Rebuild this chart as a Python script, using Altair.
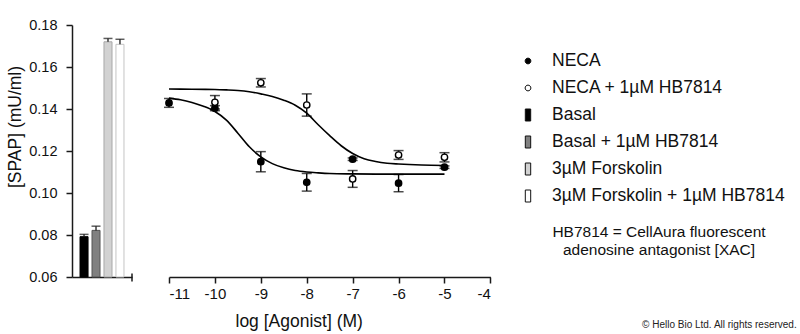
import altair as alt
import pandas as pd

FONT = "Liberation Sans"
INK = "#1a1a1a"

# ---------------- data ----------------
bar_labels = ["Basal", "Basal + 1µM HB7814", "3µM Forskolin", "3µM Forskolin + 1µM HB7814"]
bar_values = [0.0792, 0.0822, 0.1720, 0.1708]
bar_errors = [0.0011, 0.0020, 0.0016, 0.0024]

neca_logx = [-11, -10, -9, -8, -7, -6, -5]
neca_y = [0.1429, 0.1404, 0.1149, 0.1051, 0.1161, 0.1047, 0.1123]
neca_err = [0.0021, 0.0012, 0.0048, 0.0042, 0.0006, 0.0041, 0.0006]

hb_logx = [-10, -9, -8, -7, -6, -5]
hb_y = [0.1432, 0.1525, 0.1419, 0.1067, 0.1181, 0.1170]
hb_err = [0.0032, 0.0020, 0.0053, 0.0040, 0.0021, 0.0022]

neca_curve_x = [-11.0, -10.75, -10.5, -10.25, -10.0, -9.75, -9.5, -9.25, -9.0, -8.75,
                -8.5, -8.25, -8.0, -7.75, -7.5, -7.0, -6.5, -6.0, -5.5, -5.0]
neca_curve_y = [0.1452, 0.1444, 0.1431, 0.1413, 0.1388, 0.1347, 0.1285, 0.1220, 0.1172, 0.1140,
                0.1120, 0.1107, 0.1100, 0.1096, 0.1093, 0.1091, 0.1090, 0.1090, 0.1090, 0.1090]

hb_curve_x = [-11.0, -10.5, -10.0, -9.75, -9.5, -9.25, -9.0, -8.75, -8.5, -8.25, -8.0,
              -7.75, -7.5, -7.25, -7.0, -6.75, -6.5, -6.25, -6.0, -5.5, -5.0]
hb_curve_y = [0.1495, 0.1494, 0.1493, 0.1491, 0.1488, 0.1482, 0.1472, 0.1460, 0.1442, 0.1418, 0.1380,
              0.1325, 0.1273, 0.1225, 0.1188, 0.1163, 0.1150, 0.1142, 0.1138, 0.1133, 0.1131]

series_names = ["NECA", "NECA + 1µM HB7814"]
legend_labels = ["NECA", "NECA + 1µM HB7814", "Basal", "Basal + 1µM HB7814",
                 "3µM Forskolin", "3µM Forskolin + 1µM HB7814"]
note_lines = ["HB7814 = CellAura fluorescent", "adenosine antagonist [XAC]"]
copyright_text = "© Hello Bio Ltd. All rights reserved."
y_ticks = [0.06, 0.08, 0.10, 0.12, 0.14, 0.16, 0.18]
x_ticks = [-11, -10, -9, -8, -7, -6, -5, -4]

# ---------------- tables ----------------
bar_df = pd.DataFrame({"cond": bar_labels, "value": bar_values, "err": bar_errors})
pts_df = pd.concat([
    pd.DataFrame({"series": series_names[0], "logx": neca_logx, "y": neca_y, "err": neca_err}),
    pd.DataFrame({"series": series_names[1], "logx": hb_logx, "y": hb_y, "err": hb_err}),
])
curve_df = pd.concat([
    pd.DataFrame({"series": series_names[0], "logx": neca_curve_x, "y": neca_curve_y}),
    pd.DataFrame({"series": series_names[1], "logx": hb_curve_x, "y": hb_curve_y}),
])
legend_df = pd.DataFrame({"label": legend_labels})
note_df = pd.DataFrame({"t": ["\n".join(note_lines)]})
copy_df = pd.DataFrame({"t": [copyright_text]})

# ---------------- styles ----------------
legend_fills = ["#000000", "#ffffff", "#000000", "#808080", "#d2d2d2", "#ffffff"]
fill_scale = alt.Scale(domain=legend_labels, range=legend_fills)
circle_path = "M0.48,0A0.48,0.48,0,1,1,-0.48,0A0.48,0.48,0,1,1,0.48,0Z"
rect_path = "M-0.45,-1H0.45V1H-0.45Z"
legend_shapes = [circle_path, circle_path, rect_path, rect_path, rect_path, rect_path]
bar_strokes = ["#000000", "#555555", "#a8a8a8", "#c4c4c4"]

y_scale = alt.Scale(domain=[0.06, 0.18], nice=False, zero=False)

# ---------------- bar panel ----------------
xb = alt.X("cond:N", sort=bar_labels,
           scale=alt.Scale(paddingInner=0.33, paddingOuter=0.67),
           axis=alt.Axis(title=None, labels=False, ticks=False, domainColor=INK, domainWidth=1.5))
yb_axis = alt.Axis(title="[SPAP] (mU/ml)", values=y_ticks, format=".2f", grid=False,
                   tickSize=6, tickWidth=1.5, tickColor=INK, domainColor=INK, domainWidth=1.5,
                   labelPadding=9, labelFontSize=14.5, titleFontSize=17.5, titlePadding=4,
                   titleY=101.5)

bar_base = alt.Chart(bar_df).transform_calculate(hi="datum.value + datum.err")
bars = bar_base.mark_bar(strokeWidth=1).encode(
    x=xb,
    y=alt.Y("value:Q", scale=y_scale, axis=yb_axis),
    y2=alt.datum(0.06),
    fill=alt.Fill("cond:N", scale=fill_scale, legend=None),
    stroke=alt.Stroke("cond:N", scale=alt.Scale(domain=bar_labels, range=bar_strokes), legend=None),
)
bar_rule = bar_base.mark_rule(color=INK, strokeWidth=1.3).encode(x=xb, y="value:Q", y2="hi:Q")
bar_cap = bar_base.mark_tick(orient="horizontal", size=9, thickness=1.5, color=INK).encode(x=xb, y="hi:Q")
end_tick = alt.Chart(pd.DataFrame({"k": [0]})).mark_rule(color=INK, strokeWidth=1.5).encode(
    x=alt.value(60), y=alt.value(248.5), y2=alt.value(256.5))

bar_panel = alt.layer(bars, bar_rule, bar_cap, end_tick).properties(width=60, height=252)

# ---------------- curve panel ----------------
xc = alt.X("logx:Q", scale=alt.Scale(domain=[-11, -4], nice=False, zero=False),
           axis=alt.Axis(title="log [Agonist] (M)", values=x_ticks, labelExpr="'' + datum.value",
                         grid=False, tickSize=6, tickWidth=1.5, tickColor=INK, domainColor=INK,
                         domainWidth=1.5, labelPadding=3, labelFontSize=15, titleFontSize=17.5,
                         titleX=129.7, titleY=49, titleAlign="center", titleBaseline="alphabetic"))
yc = alt.Y("y:Q", scale=y_scale, axis=None)

curves = alt.Chart(curve_df).mark_line(color="#000000", strokeWidth=1.6, interpolate="monotone").encode(
    x=xc, y=yc, detail="series:N")
err_base = alt.Chart(pts_df).transform_calculate(lo="datum.y - datum.err", hi="datum.y + datum.err")
pt_rule = err_base.mark_rule(color="#000000", strokeWidth=1.4).encode(x=xc, y=alt.Y("lo:Q", scale=y_scale, axis=None), y2="hi:Q")
pt_cap_lo = err_base.mark_tick(orient="horizontal", size=10, thickness=1.5, color="#000000").encode(
    x=xc, y=alt.Y("lo:Q", scale=y_scale, axis=None))
pt_cap_hi = err_base.mark_tick(orient="horizontal", size=10, thickness=1.5, color="#000000").encode(
    x=xc, y=alt.Y("hi:Q", scale=y_scale, axis=None))
points = alt.Chart(pts_df).mark_point(shape="circle", filled=True, size=40, stroke="#000000",
                                      strokeWidth=1.4, opacity=1).encode(
    x=xc, y=yc, fill=alt.Fill("series:N", scale=fill_scale, legend=None))

ly = alt.Y("label:N", sort=legend_labels,
           scale=alt.Scale(type="point", range=[36, 171], padding=0), axis=None)
leg_sym = alt.Chart(legend_df).mark_point(filled=True, size=144, stroke="#111111", strokeWidth=1,
                                          opacity=1).encode(
    x=alt.value(359), y=ly,
    shape=alt.Shape("label:N", scale=alt.Scale(domain=legend_labels, range=legend_shapes), legend=None),
    fill=alt.Fill("label:N", scale=fill_scale, legend=None))
leg_txt = alt.Chart(legend_df).mark_text(align="left", baseline="middle", fontSize=17.5, font=FONT,
                                         color="#111111").encode(x=alt.value(383), y=ly, text="label:N")
note = alt.Chart(note_df).mark_text(align="center", baseline="top", fontSize=15.5, font=FONT,
                                    lineBreak="\n", lineHeight=18, color="#111111").encode(
    x=alt.value(490), y=alt.value(200), text="t:N")
copy = alt.Chart(copy_df).mark_text(align="right", baseline="middle", fontSize=10, font=FONT,
                                    color="#222222").encode(
    x=alt.value(627.7), y=alt.value(299.5), text="t:N")

data_layer = alt.layer(curves, pt_rule, pt_cap_lo, pt_cap_hi, points)
legend_layer = alt.layer(leg_sym, leg_txt)
curve_panel = alt.layer(data_layer, legend_layer, note, copy).resolve_scale(y="independent").properties(
    width=321.4, height=252)

chart = alt.hconcat(bar_panel, curve_panel, spacing=30).resolve_scale(
    x="independent", y="independent", fill="independent", stroke="independent", shape="independent"
).properties(
    padding={"left": 6, "top": 17, "right": 3, "bottom": 2}
).configure(font=FONT).configure_axis(
    labelFont=FONT, titleFont=FONT, labelColor="#111111", titleColor="#111111",
    titleFontWeight="normal"
).configure_view(strokeWidth=0)

chart.save("out.html", embed_options={"renderer": "svg", "actions": False})
